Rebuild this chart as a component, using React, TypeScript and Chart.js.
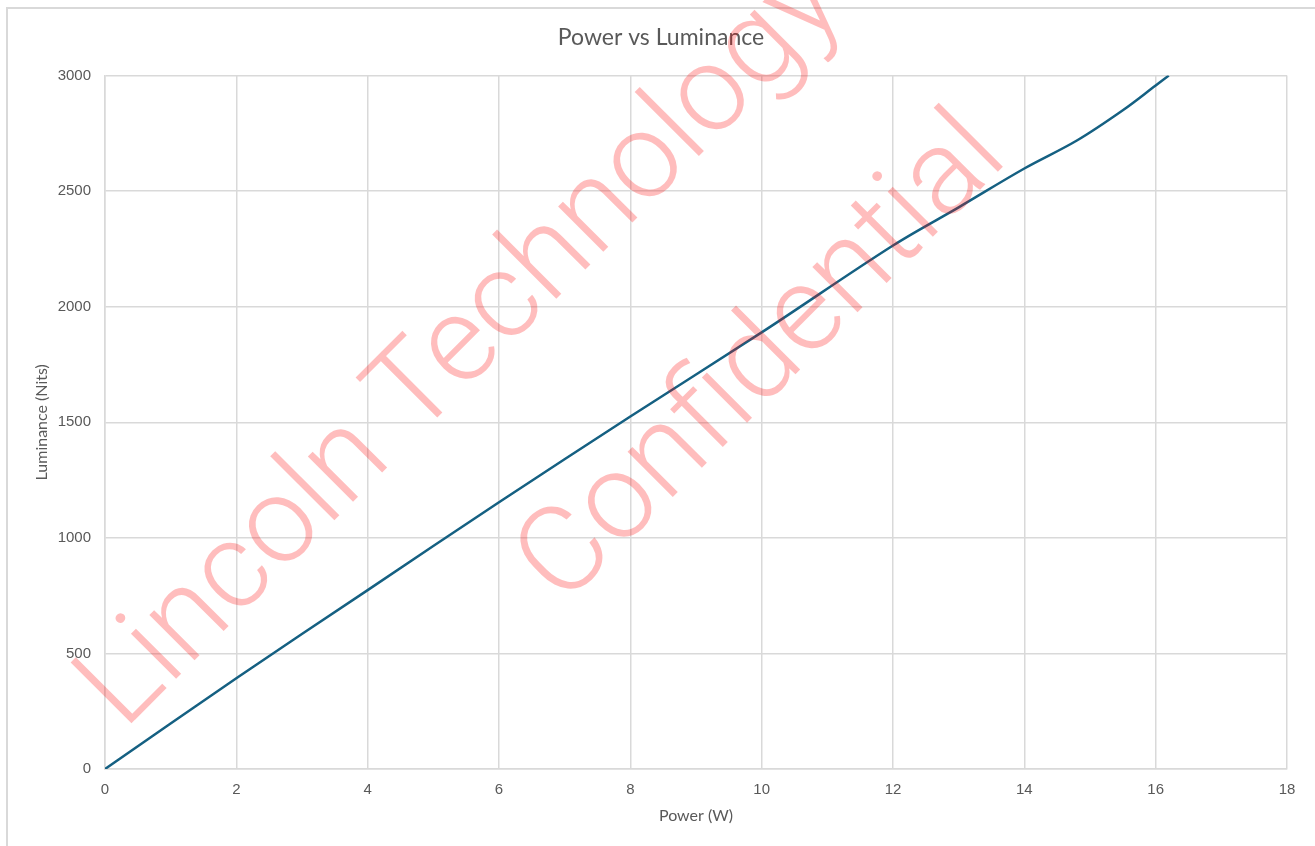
import React, { useEffect, useRef } from "react";
import { Chart, registerables } from "chart.js";

Chart.register(...registerables);

const chartTitle = "Power vs Luminance";
const xAxisTitle = "Power (W)";
const yAxisTitle = "Luminance (Nits)";
const watermarkLines = ["Lincoln Technology", "Confidential"];

const powerW = [0, 2, 4, 6, 8, 10, 12, 13, 14, 14.8, 15.5, 16, 16.2];
const luminanceNits = [0, 393, 774, 1154, 1525, 1889, 2265, 2430, 2598, 2719, 2850, 2957, 3000];

const xTicks = { min: 0, max: 18, step: 2 };
const yTicks = { min: 0, max: 3000, step: 500 };

const watermarkPlugin = {
  id: "watermark",
  afterDraw(chart: any) {
    const ctx = chart.ctx as CanvasRenderingContext2D;
    ctx.save();
    ctx.fillStyle = "rgba(255,0,0,0.26)";
    ctx.font = "300 121px Roboto, 'DejaVu Sans', sans-serif";
    ctx.textAlign = "center";
    ctx.textBaseline = "middle";
    const centers = [
      [464, 348],
      [765, 362],
    ];
    watermarkLines.forEach((t, i) => {
      ctx.save();
      ctx.translate(centers[i][0], centers[i][1]);
      ctx.rotate(-Math.PI / 4);
      ctx.fillText(t, 0, 0);
      ctx.restore();
    });
    ctx.restore();
  },
};

export default function App() {
  const ref = useRef<HTMLCanvasElement | null>(null);
  useEffect(() => {
    if (!ref.current) return;
    const data = powerW.map((x, i) => ({ x, y: luminanceNits[i] }));
    const grid = "#d9d9d9";
    const tickColor = "#595959";
    const titleFont = "Lato, 'Open Sans', sans-serif";
    const tickFont = "'Liberation Sans', Arial, sans-serif";
    const chart = new Chart(ref.current, {
      type: "scatter",
      data: {
        datasets: [
          {
            data,
            showLine: true,
            borderColor: "#156082",
            borderWidth: 2.5,
            pointRadius: 0,
            tension: 0.35,
          } as any,
        ],
      },
      plugins: [watermarkPlugin],
      options: {
        animation: false,
        responsive: false,
        devicePixelRatio: 1,
        layout: { padding: { left: 7, right: 0, top: 0, bottom: 0 } },
        plugins: {
          legend: { display: false },
          tooltip: { enabled: false },
          title: {
            display: true,
            text: chartTitle,
            color: tickColor,
            font: { family: titleFont, size: 23, weight: "normal" },
            padding: { top: 24, bottom: 24 },
          },
        },
        scales: {
          x: {
            type: "linear",
            min: xTicks.min,
            max: xTicks.max,
            ticks: {
              stepSize: xTicks.step,
              color: tickColor,
              font: { family: tickFont, size: 15 },
              padding: 12,
            },
            grid: { color: grid, lineWidth: 1.5, drawTicks: false },
            border: { color: grid, width: 1.5 },
            title: {
              display: true,
              text: xAxisTitle,
              color: tickColor,
              font: { family: titleFont, size: 16 },
              padding: { top: 0, bottom: 20.4 },
            },
            afterFit: (s: any) => {
              s.height = 77;
            },
          },
          y: {
            type: "linear",
            min: yTicks.min,
            max: yTicks.max,
            ticks: {
              stepSize: yTicks.step,
              color: tickColor,
              font: { family: tickFont, size: 15 },
              padding: 14,
              callback: (v: any) => String(v),
            },
            grid: { color: grid, lineWidth: 1.5, drawTicks: false },
            border: { color: grid, width: 1.5 },
            title: {
              display: true,
              text: yAxisTitle,
              color: tickColor,
              font: { family: titleFont, size: 16 },
              padding: { top: 25.4, bottom: 0 },
            },
            afterFit: (s: any) => {
              s.width = 98;
            },
          },
          yRightSpacer: {
            type: "linear",
            position: "right",
            display: true,
            min: yTicks.min,
            max: yTicks.max,
            ticks: { display: false },
            grid: { display: false, drawTicks: false },
            border: { display: false },
            afterFit: (s: any) => {
              s.width = 28;
            },
          },
        },
      },
    });
    return () => chart.destroy();
  }, []);
  return (
    <div>
      <div
        style={{
          position: "fixed",
          left: 6,
          top: 7,
          width: 1400,
          height: 1000,
          border: "2px solid #d9d9d9",
          boxSizing: "border-box",
        }}
      />
      <canvas
        ref={ref}
        width={1315}
        height={846}
        style={{ position: "fixed", left: 0, top: 0, width: 1315, height: 846 }}
      />
    </div>
  );
}
